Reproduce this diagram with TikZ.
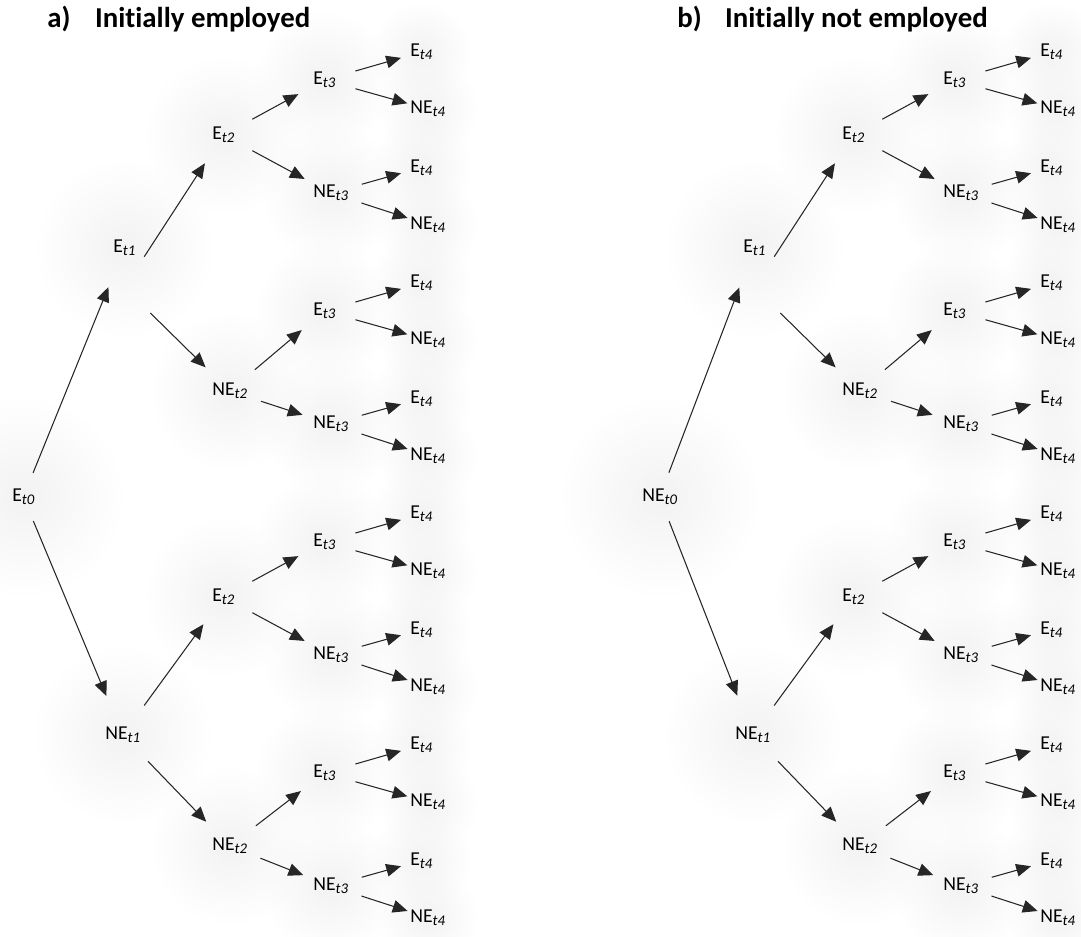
\documentclass[tikz,border=0pt]{standalone}
\usepackage{fontspec}
\setmainfont{Carlito}[Ligatures=CommonOff]
\usepackage{tikz}
\usetikzlibrary{arrows.meta,backgrounds,fadings}
\tikzfading[name=glowfade, inner color=transparent!0, outer color=transparent!100]
\newcommand{\tsub}[1]{\raisebox{-0.3ex}{\fontsize{10.5}{10.5}\selectfont\itshape #1}}
\newcommand{\glow}[2]{\begin{scope}[on background layer]\fill[black!5, path fading=glowfade] (#1.center) circle (#2);\end{scope}}

\begin{document}
\begin{tikzpicture}[
  x=0.025cm, y=-0.025cm,
  lbl/.style={anchor=west, inner sep=0pt, font=\fontsize{14}{16}\selectfont},
  ttl/.style={anchor=base west, inner sep=0pt, font=\fontsize{20.5}{24}\selectfont\bfseries},
  arr/.style={-{Triangle[length=10.5pt,width=9pt]}, line width=0.75pt, black!85},
  e0/.style={arr, shorten <=18.5pt, shorten >=30pt},
  e1/.style={arr, shorten <=26pt, shorten >=24pt},
  e2/.style={arr, shorten <=23.5pt, shorten >=21pt},
  e3/.style={arr, shorten <=23pt, shorten >=15pt}
]
\useasboundingbox (0,0) rectangle (1081,936);

\foreach \tr/\dx/\root/\head in {a/0/E/Initially employed, b/630/NE/Initially not employed}{
\begin{scope}[shift={(\dx,0)}]
  \node[ttl] (\tr-title) at (47,27) {\makebox[34pt][l]{\tr)}\head};
  % root and first period
  \node[lbl] (\tr0) at (12,497) {\root\tsub{t0}};
  \glow{\tr0}{72pt}
  \node[lbl] (\tr1-1) at (113,248) {E\tsub{t1}};
  \glow{\tr1-1}{64pt}
  \node[lbl] (\tr1-2) at (105,735) {NE\tsub{t1}};
  \glow{\tr1-2}{64pt}
  \draw[e0] (\tr0.center) -- (\tr1-1.center);
  \draw[e0] (\tr0.center) -- (\tr1-2.center);
  % second period
  \foreach \y/\s/\p/\hub [count=\i] in {135/E/1/-28pt, 391/NE/1/-28pt, 597/E/2/0pt, 846/NE/2/0pt}{
    \node[lbl] (\tr2-\i) at (212,\y) {\s\tsub{t2}};
    \glow{\tr2-\i}{57pt}
    \draw[e1] ([yshift=\hub]\tr1-\p.center) -- (\tr2-\i.center);
  }
  % third and fourth period
  \foreach \y/\s [count=\k] in {80/E, 193/NE, 311/E, 424/NE, 542/E, 655/NE, 773/E, 886/NE}{
    \pgfmathtruncatemacro{\p}{(\k+1)/2}
    \pgfmathsetmacro{\yl}{52+115.5*(\k-1)}
    \node[lbl] (\tr3-\k) at (313,\y) {\s\tsub{t3}};
    \glow{\tr3-\k}{50pt}
    \draw[e2] (\tr2-\p.center) -- (\tr3-\k.center);
    \node[lbl] (\tr4-\k-1) at (410,\yl) {E\tsub{t4}};
    \node[lbl] (\tr4-\k-2) at (410,\yl+57) {NE\tsub{t4}};
    \glow{\tr4-\k-1}{36pt}
    \glow{\tr4-\k-2}{36pt}
    \draw[e3] (\tr3-\k.center) -- (\tr4-\k-1.center);
    \draw[e3] (\tr3-\k.center) -- (\tr4-\k-2.center);
  }
\end{scope}
}
\end{tikzpicture}
\end{document}
